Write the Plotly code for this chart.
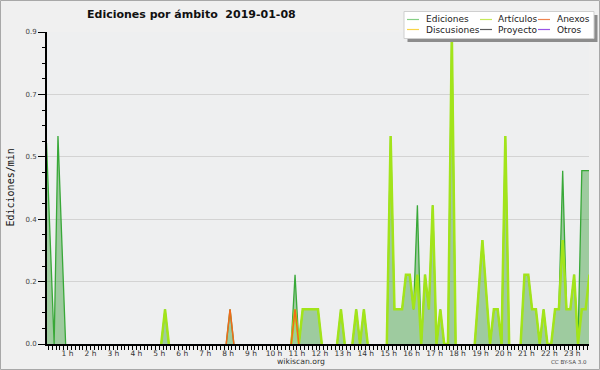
import plotly.graph_objects as go

# ---------------- data (10-minute bins, edits per minute) ----------------
bin_minutes = 10
ediciones = [
    0.58, 0.29, 0, 0.6, 0.3, 0,        # 0 h
    0, 0, 0, 0, 0, 0,                  # 1 h
    0, 0, 0, 0, 0, 0,                  # 2 h
    0, 0, 0, 0, 0, 0,                  # 3 h
    0, 0, 0, 0, 0, 0,                  # 4 h
    0, 0.1, 0, 0, 0, 0,                # 5 h
    0, 0, 0, 0, 0, 0,                  # 6 h
    0, 0, 0, 0, 0, 0,                  # 7 h
    0.1, 0, 0, 0, 0, 0,                # 8 h
    0, 0, 0, 0, 0, 0,                  # 9 h
    0, 0, 0, 0, 0, 0.2,                # 10 h
    0, 0.1, 0.1, 0.1, 0.1, 0.1,        # 11 h
    0, 0, 0, 0, 0, 0.1,                # 12 h
    0, 0, 0, 0.1, 0, 0.1,              # 13 h
    0, 0, 0, 0, 0, 0,                  # 14 h
    0.6, 0.1, 0.1, 0.1, 0.2, 0.2,      # 15 h
    0.1, 0.4, 0, 0.2, 0.1, 0.4,        # 16 h
    0, 0.1, 0, 0, 0.9, 0,              # 17 h
    0, 0, 0, 0, 0, 0.15,               # 18 h
    0.3, 0.15, 0, 0.1, 0.1, 0,         # 19 h
    0.6, 0, 0, 0, 0, 0.2,              # 20 h
    0.2, 0.1, 0.1, 0, 0.1, 0,          # 21 h
    0, 0.1, 0.1, 0.5, 0.1, 0.1,        # 22 h
    0.2, 0, 0.5, 0.5, 0.5,             # 23 h
]
articulos = [
    0, 0, 0, 0, 0, 0,
    0, 0, 0, 0, 0, 0,
    0, 0, 0, 0, 0, 0,
    0, 0, 0, 0, 0, 0,
    0, 0, 0, 0, 0, 0,
    0, 0.1, 0, 0, 0, 0,
    0, 0, 0, 0, 0, 0,
    0, 0, 0, 0, 0, 0,
    0, 0, 0, 0, 0, 0,
    0, 0, 0, 0, 0, 0,
    0, 0, 0, 0, 0, 0.1,
    0, 0.1, 0.1, 0.1, 0.1, 0.1,
    0, 0, 0, 0, 0, 0.1,
    0, 0, 0, 0.1, 0, 0.1,
    0, 0, 0, 0, 0, 0,
    0.6, 0.1, 0.1, 0.1, 0.2, 0.2,
    0.1, 0.2, 0, 0.2, 0.1, 0.4,
    0, 0.1, 0, 0, 0.9, 0,
    0, 0, 0, 0, 0, 0.15,
    0.3, 0.15, 0, 0.1, 0.1, 0,
    0.6, 0, 0, 0, 0, 0.2,
    0.2, 0.1, 0.1, 0, 0.1, 0,
    0, 0.1, 0.1, 0.3, 0.1, 0.1,
    0.2, 0, 0.1, 0.1, 0.2,
]
anexos = [
    0, 0, 0, 0, 0, 0,
    0, 0, 0, 0, 0, 0,
    0, 0, 0, 0, 0, 0,
    0, 0, 0, 0, 0, 0,
    0, 0, 0, 0, 0, 0,
    0, 0, 0, 0, 0, 0,
    0, 0, 0, 0, 0, 0,
    0, 0, 0, 0, 0, 0,
    0.1, 0, 0, 0, 0, 0,
    0, 0, 0, 0, 0, 0,
    0, 0, 0, 0, 0, 0.1,
    0, 0, 0, 0, 0, 0,
    0, 0, 0, 0, 0, 0,
    0, 0, 0, 0, 0, 0,
    0, 0, 0, 0, 0, 0,
    0, 0, 0, 0, 0, 0,
    0, 0, 0, 0, 0, 0,
    0, 0, 0, 0, 0, 0,
    0, 0, 0, 0, 0, 0,
    0, 0, 0, 0, 0, 0,
    0, 0, 0, 0, 0, 0,
    0, 0, 0, 0, 0, 0,
    0, 0, 0, 0, 0, 0,
    0, 0, 0, 0, 0,
]

legend_names = ["Ediciones", "Artículos", "Anexos", "Discusiones", "Proyecto", "Otros"]
legend_colors = ["#86cf86", "#c6ea5a", "#ee8450", "#f8d448", "#5a5a5a", "#9a55e6"]

hour_ticks = list(range(1, 24))
hour_labels = [f"{h} h" for h in hour_ticks]
y_tick_vals = [0, 0.18, 0.36, 0.54, 0.72, 0.9]
y_tick_labels = ["0.0", "0.2", "0.4", "0.5", "0.7", "0.9"]

title_text = "Ediciones por ámbito\u00a0\u00a02019-01-08"
y_title = "Ediciones/min"

# ---------------- layout geometry ----------------
W, H = 600, 370
ML, MR, MT, MB = 47, 11, 32, 26
PW, PH = W - ML - MR, H - MT - MB


def px_x(p):
    return (p - ML) / PW


def px_y(p):
    return (H - MB - p) / PH


def hide_flat_zero(vals):
    """Leave out runs of zeros (drawn on the baseline, hidden in the reference)."""
    out = []
    n = len(vals)
    for i, v in enumerate(vals):
        prev_v = vals[i - 1] if i > 0 else 0
        next_v = vals[i + 1] if i < n - 1 else 0
        out.append(v if (v or prev_v or next_v) else None)
    return out


times = [(i + 0.5) * bin_minutes / 60 for i in range(len(ediciones))]

fig = go.Figure()
fig.add_trace(go.Scatter(
    x=times, y=hide_flat_zero(ediciones), mode="lines", name="Ediciones",
    line=dict(color="#38a838", width=1.3), connectgaps=False,
    fill="tozeroy", fillcolor="rgba(60,160,60,0.45)", showlegend=False,
))
fig.add_trace(go.Scatter(
    x=times, y=hide_flat_zero(articulos), mode="lines", name="Artículos",
    line=dict(color="#a2e41a", width=2.5), connectgaps=False, showlegend=False,
))
fig.add_trace(go.Scatter(
    x=times, y=hide_flat_zero(anexos), mode="lines", name="Anexos",
    line=dict(color="#f26a1b", width=1.5), connectgaps=False, showlegend=False,
))

shapes = [
    dict(type="rect", xref="paper", yref="paper",
         x0=px_x(0.5), x1=px_x(W - 0.5), y0=px_y(0.5), y1=px_y(H - 0.5),
         line=dict(color="#a8a8a8", width=1), fillcolor="rgba(0,0,0,0)", layer="above"),
    dict(type="rect", xref="paper", yref="paper",
         x0=px_x(407.5), x1=px_x(597.5), y0=px_y(15), y1=px_y(42),
         line=dict(width=0), fillcolor="#8c8c8c", layer="above"),
    dict(type="rect", xref="paper", yref="paper",
         x0=px_x(404), x1=px_x(594), y0=px_y(11.5), y1=px_y(38.5),
         line=dict(color="#cfcfcf", width=1), fillcolor="#ffffff", layer="above"),
]
annotations = []
col_line_x = [407, 480, 538]
col_text_x = [424, 496, 555]
row_y = [19.5, 29.5]
for k, (name, col) in enumerate(zip(legend_names, legend_colors)):
    r, c = divmod(k, 3)
    shapes.append(dict(type="line", xref="paper", yref="paper",
                       x0=px_x(col_line_x[c]), x1=px_x(col_line_x[c] + 12),
                       y0=px_y(row_y[r]), y1=px_y(row_y[r]),
                       line=dict(color=col, width=1.2), layer="above"))
    annotations.append(dict(text=name, xref="paper", yref="paper",
                            x=px_x(col_text_x[c]), y=px_y(row_y[r]),
                            xanchor="left", yanchor="middle", showarrow=False,
                            font=dict(family="DejaVu Sans", size=9, color="#222")))

annotations += [
    dict(text=title_text, xref="paper", yref="paper", x=px_x(85), y=px_y(15),
         xanchor="left", yanchor="middle", showarrow=False,
         font=dict(family="DejaVu Sans", size=11, color="#111", weight="bold")),
    dict(text=y_title, xref="paper", yref="paper", x=px_x(9.5), y=0.5,
         xanchor="center", yanchor="middle", textangle=-90, showarrow=False,
         font=dict(family="DejaVu Sans Mono", size=10, color="#111")),
    dict(text="wikiscan.org", xref="paper", yref="paper", x=px_x(301), y=px_y(361),
         xanchor="center", yanchor="middle", showarrow=False,
         font=dict(family="DejaVu Sans", size=7.7, color="#333")),
    dict(text="CC BY-SA 3.0", xref="paper", yref="paper", x=px_x(589), y=px_y(362),
         xanchor="right", yanchor="middle", showarrow=False,
         font=dict(family="DejaVu Sans", size=5.5, color="#444")),
]

fig.update_layout(
    width=W, height=H,
    margin=dict(l=ML, r=MR, t=MT, b=MB, pad=0),
    paper_bgcolor="#f0f0f0", plot_bgcolor="#eeeff0",
    showlegend=False,
    shapes=shapes, annotations=annotations,
    xaxis=dict(
        range=[0.105, 23.73], showgrid=False, zeroline=False,
        showline=True, linecolor="black", linewidth=2,
        ticks="outside", ticklen=4, tickwidth=1, tickcolor="black",
        tickmode="array", tickvals=hour_ticks, ticktext=hour_labels,
        tickfont=dict(family="DejaVu Sans", size=7.5, color="#333"),
        ticklabelstandoff=-3,
        minor=dict(ticks="outside", ticklen=4, tickwidth=1, tickcolor="black",
                   tick0=0, dtick=1 / 6, showgrid=False),
    ),
    yaxis=dict(
        range=[0, 0.9], showgrid=True, gridcolor="#d3d3d3", gridwidth=1,
        zeroline=False, showline=True, linecolor="black", linewidth=2,
        ticks="outside", ticklen=7, tickwidth=1, tickcolor="black",
        tickmode="array", tickvals=y_tick_vals, ticktext=y_tick_labels,
        tickfont=dict(family="DejaVu Sans", size=7, color="#444"),
        minor=dict(ticks="outside", ticklen=3, tickwidth=1, tickcolor="black",
                   tick0=0, dtick=0.045, showgrid=False),
    ),
)

fig.write_html(
    "out.html",
    config={"displayModeBar": False},
    post_script="document.body.style.margin='0';document.body.style.padding='0';",
)
